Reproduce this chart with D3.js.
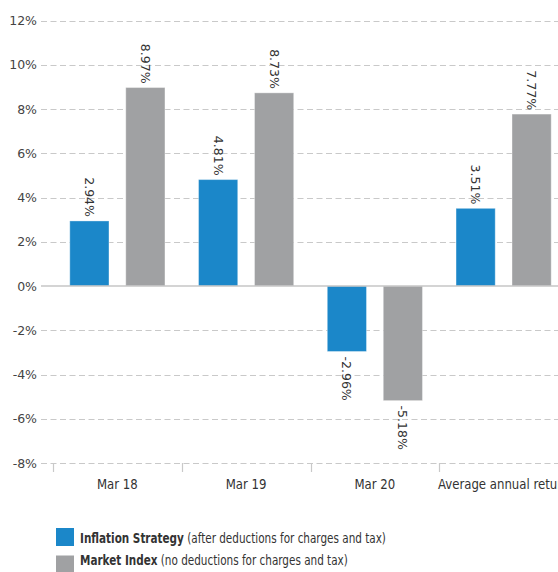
<!DOCTYPE html>
<html>
<head>
<meta charset="utf-8">
<script src="https://cdn.jsdelivr.net/npm/d3@7"></script>
<style>
    body { margin: 0; background: #fff; }
    svg { display: block; }
</style>
</head>
<body>
<div id="chart"></div>
<script>
// categories and values
var categories = ["Mar 18", "Mar 19", "Mar 20", "Average annual return"];
var seriesNames = ["Inflation Strategy", "Market Index"];
var seriesNotes = ["(after deductions for charges and tax)", "(no deductions for charges and tax)"];
var inflationValues = [2.94, 4.81, -2.96, 3.51];
var marketValues = [8.97, 8.73, -5.18, 7.77];
var yTicks = [12, 10, 8, 6, 4, 2, 0, -2, -4, -6, -8];

var colors = ["#1b87c9", "#a0a1a3"];
// no narrow font installed, so the condensed one gets squeezed a bit more
var condensed = "'DejaVu Sans Condensed', 'DejaVu Sans', sans-serif";
var plain = "'DejaVu Sans', sans-serif";

var width = 558, height = 572;

var svg = d3.select("#chart").append("svg")
    .attr("width", width)
    .attr("height", height);

var y = d3.scaleLinear().domain([-8, 12]).range([463, 20.5]);

var x = d3.scaleBand().domain(categories).range([53, 568]).padding(0);
var x1 = d3.scaleBand().domain([0, 1]).range([0, x.bandwidth()]).padding(0.3);

// gridlines
svg.append("g").selectAll("line")
    .data(yTicks.filter(d => d != 0))
    .enter().append("line")
    .attr("x1", 41).attr("x2", width)
    .attr("y1", d => Math.round(y(d)) + 0.5)
    .attr("y2", d => Math.round(y(d)) + 0.5)
    .attr("stroke", "#c9c9c9")
    .attr("stroke-width", 1.2)
    .attr("stroke-dasharray", "6,3.5");

// y labels
svg.append("g").selectAll("text")
    .data(yTicks)
    .enter().append("text")
    .attr("x", 37)
    .attr("y", d => y(d))
    .attr("dy", "0.36em")
    .attr("text-anchor", "end")
    .style("font-family", plain)
    .style("font-size", "12.5px")
    .style("fill", "#444")
    .text(d => d + "%");

// ticks between the categories
svg.append("g").selectAll("line")
    .data(categories)
    .enter().append("line")
    .attr("x1", d => Math.round(x(d)) + 0.5)
    .attr("x2", d => Math.round(x(d)) + 0.5)
    .attr("y1", y(-8))
    .attr("y2", y(-8) + 9)
    .attr("stroke", "#c9c9c9")
    .attr("stroke-width", 1.2);

// category labels through the axis
var xAxis = svg.append("g")
    .attr("transform", "translate(0," + y(-8) + ")")
    .call(d3.axisBottom(x).tickSize(0).tickPadding(16));
xAxis.select(".domain").remove();
xAxis.selectAll("text")
    .attr("transform", "scale(0.9,1)")
    .style("font-family", condensed)
    .style("font-size", "14.5px")
    .style("fill", "#333");

// bars
var rows = categories.map((c, i) => ({ cat: c, values: [inflationValues[i], marketValues[i]] }));

var groups = svg.append("g").selectAll("g")
    .data(rows)
    .enter().append("g")
    .attr("transform", d => "translate(" + x(d.cat) + ",0)");

groups.selectAll("rect")
    .data(d => d.values.map((v, k) => ({ k: k, v: v })))
    .enter().append("rect")
    .attr("x", d => x1(d.k))
    .attr("width", x1.bandwidth())
    .attr("y", d => y(Math.max(0, d.v)))
    .attr("height", d => Math.abs(y(d.v) - y(0)))
    .style("fill", d => colors[d.k])
    .style("stroke", "rgba(255,255,255,0.35)")
    .style("stroke-width", 1);

groups.selectAll("text")
    .data(d => d.values.map((v, k) => ({ k: k, v: v })))
    .enter().append("text")
    .attr("transform", d => {
        var cx = x1(d.k) + x1.bandwidth() / 2;
        var cy = d.v >= 0 ? y(d.v) - 4 : y(d.v) + 5;
        return "translate(" + cx + "," + cy + ") rotate(90)";
    })
    .attr("text-anchor", d => d.v >= 0 ? "end" : "start")
    .attr("dy", "0.36em")
    .style("font-family", plain)
    .style("font-size", "12.5px")
    .style("fill", "#333")
    .text(d => d.v.toFixed(2) + "%");

// zero line
svg.append("line")
    .attr("x1", 41).attr("x2", width)
    .attr("y1", y(0)).attr("y2", y(0))
    .attr("stroke", "#c6c6c6")
    .attr("stroke-width", 1.5);

// legend
var legend = svg.append("g").selectAll("g")
    .data(seriesNames)
    .enter().append("g");

legend.append("rect")
    .attr("x", 56)
    .attr("y", (d, i) => 528 + i * 27.5)
    .attr("width", 18)
    .attr("height", 18)
    .style("fill", (d, i) => colors[i]);

var legendText = legend.append("text")
    .attr("transform", (d, i) => "translate(80," + (543 + i * 22) + ") scale(0.8,1)")
    .style("font-family", condensed)
    .style("font-size", "14.5px")
    .style("fill", "#333");
legendText.append("tspan")
    .style("font-weight", "bold")
    .text(d => d);
legendText.append("tspan")
    .text((d, i) => " " + seriesNotes[i]);
</script>
</body>
</html>
